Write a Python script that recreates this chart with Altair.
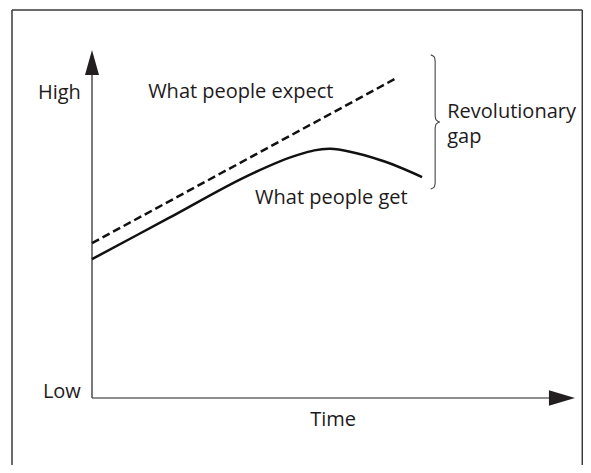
import altair as alt
import pandas as pd

# ---- chart geometry (scale domains) ----
W, H = 575, 457
PX_X, PX_Y = 4.84, 3.48
X_MIN = -84 / PX_X
X_MAX = X_MIN + W / PX_X
Y_MAX = 390 / PX_Y
Y_MIN = Y_MAX - H / PX_Y

# ---- data (time units 0..100, level units 0..100) ----
expect_t = [0.0, 63.0]
expect_v = [44.5, 92.0]

get_t = [0.0, 15.7, 31.6, 42.4, 49.2, 59.5, 68.2]
get_v = [39.9, 51.6, 63.5, 69.8, 71.6, 68.4, 63.5]

brace_t = [70.0, 70.7, 70.9, 70.9, 71.1, 71.9, 71.1, 70.9, 70.9, 70.7, 70.0]
brace_v = [98.6, 98.0, 96.8, 81.0, 79.9, 79.3, 78.7, 77.6, 61.8, 60.6, 60.1]

frame_left_t, frame_right_t, frame_top_v = -16.53, 101.3, 111.49

axis_y_top = 93.1
axis_x_right = 94.6
arrow_up = (0.0, 96.4)
arrow_right = (97.1, 0.0)

left_labels = ["What people expect", "What people get", "Revolutionary", "gap"]
left_t = [11.6, 33.7, 73.4, 73.4]
left_v = [86.2, 55.8, 80.5, 73.2]

right_labels = ["High", "Low"]
right_t = [-2.3, -2.3]
right_v = [85.9, 0.0]

center_labels = ["Time"]
center_t = [49.8]
center_v = [-8.0]

FONT = "Open Sans"
TXT = "#1e1a1b"
FS = 20

xs = alt.Scale(domain=[X_MIN, X_MAX], nice=False, zero=False)
ys = alt.Scale(domain=[Y_MIN, Y_MAX], nice=False, zero=False)
X = lambda f: alt.X(f, type="quantitative", scale=xs, axis=None)
Y = lambda f: alt.Y(f, type="quantitative", scale=ys, axis=None)

# frame
frame_v = pd.DataFrame({"t": [frame_left_t, frame_right_t], "v0": [Y_MIN, Y_MIN], "v1": [frame_top_v, frame_top_v]})
frame_sides = alt.Chart(frame_v).mark_rule(color="#3a3a3a", strokeWidth=1.5).encode(
    x=X("t"), y=Y("v0"), y2="v1")
frame_top = alt.Chart(pd.DataFrame({"t0": [frame_left_t], "t1": [frame_right_t], "v": [frame_top_v]})).mark_rule(
    color="#3a3a3a", strokeWidth=1.5).encode(x=X("t0"), x2="t1", y=Y("v"))

# axes
yaxis = alt.Chart(pd.DataFrame({"t": [0.0], "v0": [0.0], "v1": [axis_y_top]})).mark_rule(
    color="#231f20", strokeWidth=1.2).encode(x=X("t"), y=Y("v0"), y2="v1")
xaxis = alt.Chart(pd.DataFrame({"t0": [0.0], "t1": [axis_x_right], "v": [0.0]})).mark_rule(
    color="#231f20", strokeWidth=1.2).encode(x=X("t0"), x2="t1", y=Y("v"))
head_up = alt.Chart(pd.DataFrame({"t": [arrow_up[0]], "v": [arrow_up[1]]})).mark_point(
    shape="M0,-1L0.56,1L-0.56,1Z", size=625, filled=True, color="#231f20", opacity=1, strokeWidth=0).encode(x=X("t"), y=Y("v"))
head_right = alt.Chart(pd.DataFrame({"t": [arrow_right[0]], "v": [arrow_right[1]]})).mark_point(
    shape="M1,0L-1,-0.6L-1,0.6Z", size=676, filled=True, color="#231f20", opacity=1, strokeWidth=0).encode(x=X("t"), y=Y("v"))

# lines
expect = alt.Chart(pd.DataFrame({"t": expect_t, "v": expect_v})).mark_line(
    color="#111", strokeWidth=2.5, strokeDash=[8, 4]).encode(x=X("t"), y=Y("v"))
get = alt.Chart(pd.DataFrame({"t": get_t, "v": get_v, "o": range(len(get_t))})).mark_line(
    color="#111", strokeWidth=2.5, interpolate="catmull-rom").encode(x=X("t"), y=Y("v"), order="o")
brace = alt.Chart(pd.DataFrame({"t": brace_t, "v": brace_v, "o": range(len(brace_t))})).mark_line(
    color="#444", strokeWidth=1.1, interpolate="monotone").encode(x=X("t"), y=Y("v"), order="o")

def texts(labels, ts, vs, align):
    return alt.Chart(pd.DataFrame({"label": labels, "t": ts, "v": vs})).mark_text(
        align=align, baseline="alphabetic", font=FONT, fontSize=FS, color=TXT).encode(
        x=X("t"), y=Y("v"), text="label")

chart = alt.layer(
    frame_sides, frame_top, yaxis, xaxis, head_up, head_right, expect, get, brace,
    texts(left_labels, left_t, left_v, "left"),
    texts(right_labels, right_t, right_v, "right"),
    texts(center_labels, center_t, center_v, "center"),
).properties(
    width=W, height=H, autosize=alt.AutoSizeParams(type="none"), padding=0
).configure_view(stroke=None)

chart.save("out.html", embed_options={"renderer": "svg", "actions": False})
